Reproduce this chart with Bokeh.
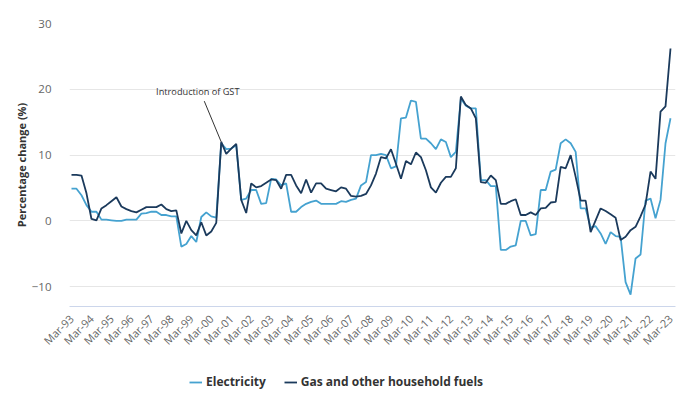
import math
from bokeh.plotting import figure
from bokeh.layouts import column
from bokeh.models import ColumnDataSource, Range1d, FixedTicker, Legend, LegendItem, Label, Segment
from bokeh.embed import file_html
from bokeh.resources import INLINE

# Quarterly data, Mar-93 .. Mar-23 (annual % change)
electricity = [4.9, 4.9, 3.9, 2.4, 1.4, 1.4, 0.2, 0.2, 0.1, 0.0, 0.0, 0.2, 0.2, 0.2, 1.1, 1.2,
               1.4, 1.4, 0.9, 0.9, 0.7, 0.7, -3.9, -3.5, -2.3, -3.2, 0.6, 1.3, 0.7, 0.5,
               11.8, 10.9, 11.0, 11.5, 3.2, 3.4, 4.7, 4.7, 2.6, 2.7, 6.4, 6.3, 5.4, 5.7,
               1.4, 1.4, 2.1, 2.6, 2.9, 3.1, 2.6, 2.6, 2.6, 2.6, 3.0, 2.9, 3.2, 3.4, 5.4, 5.9,
               10.0, 10.0, 10.2, 10.0, 8.0, 8.3, 15.6, 15.7, 18.3, 18.1, 12.5, 12.5, 11.8, 10.9,
               12.4, 12.0, 9.7, 10.5, 18.6, 17.5, 17.1, 17.1, 6.2, 6.2, 5.3, 5.3, -4.4, -4.4,
               -3.9, -3.7, 0.0, 0.0, -2.2, -2.0, 4.7, 4.7, 7.5, 7.8, 11.8, 12.4, 11.8, 10.5,
               1.9, 1.9, -1.0, -0.8, -1.9, -3.5, -1.7, -2.3, -2.4, -9.3, -11.2, -5.7, -5.1,
               3.1, 3.4, 0.4, 3.2, 11.8, 15.6]
gas = [7.0, 7.0, 6.9, 4.2, 0.3, 0.1, 1.9, 2.4, 3.0, 3.6, 2.2, 1.8, 1.5, 1.3, 1.7, 2.1,
       2.1, 2.1, 2.5, 1.8, 1.5, 1.6, -1.9, 0.0, -1.4, -2.2, -0.2, -2.2, -1.6, -0.3,
       12.0, 10.2, 11.0, 11.7, 3.2, 1.2, 5.7, 5.1, 5.3, 5.8, 6.3, 6.2, 4.9, 7.0,
       7.0, 5.4, 4.2, 6.3, 4.3, 5.7, 5.7, 4.9, 4.7, 4.5, 5.1, 4.9, 3.8, 3.7, 3.8, 4.1,
       5.4, 7.2, 9.7, 9.5, 10.9, 8.7, 6.4, 9.1, 8.6, 10.4, 9.7, 7.7, 5.1, 4.3,
       5.8, 6.7, 6.7, 8.0, 18.9, 17.6, 17.1, 15.6, 5.9, 5.8, 6.9, 6.2, 2.6, 2.6,
       3.0, 3.3, 0.9, 0.9, 1.3, 0.9, 1.9, 2.0, 2.8, 2.9, 8.2, 8.0, 10.0, 6.7,
       3.1, 3.1, -1.7, 0.1, 1.9, 1.5, 1.0, 0.5, -2.9, -2.4, -1.4, -0.9, 0.7,
       2.5, 7.5, 6.4, 16.6, 17.4, 26.2]
tick_labels = ["Mar-93", "Mar-94", "Mar-95", "Mar-96", "Mar-97", "Mar-98", "Mar-99", "Mar-00",
               "Mar-01", "Mar-02", "Mar-03", "Mar-04", "Mar-05", "Mar-06", "Mar-07", "Mar-08",
               "Mar-09", "Mar-10", "Mar-11", "Mar-12", "Mar-13", "Mar-14", "Mar-15", "Mar-16",
               "Mar-17", "Mar-18", "Mar-19", "Mar-20", "Mar-21", "Mar-22", "Mar-23"]
series_names = ["Electricity", "Gas and other household fuels"]
gst_index = 30  # Sep-00 quarter

FONT = "Open Sans"
ELEC_C = "#45a2d0"
GAS_C = "#1b3a5c"

x = list(range(len(gas)))
src = ColumnDataSource(dict(x=x, elec=electricity, gas=gas))

p = figure(frame_width=606, frame_height=283, output_backend="svg", toolbar_location=None,
           x_range=Range1d(-0.4, 121.0), y_range=Range1d(-13.0, 30.0),
           min_border_left=69, min_border_right=16, min_border_top=23, min_border_bottom=50)
p.outline_line_color = None
p.background_fill_color = "white"
p.border_fill_color = "white"

r1 = p.line("x", "elec", source=src, line_color=ELEC_C, line_width=1.8)
r2 = p.line("x", "gas", source=src, line_color=GAS_C, line_width=1.8)

# axes
p.xaxis.ticker = FixedTicker(ticks=[4 * i for i in range(len(tick_labels))])
p.xaxis.major_label_overrides = {4 * i: t for i, t in enumerate(tick_labels)}
p.xaxis.major_label_orientation = math.pi / 4
p.xaxis.axis_line_color = "#ccd6eb"
p.xaxis.major_tick_line_color = None
p.xaxis.minor_tick_line_color = None
p.xaxis.major_label_text_font = FONT
p.xaxis.major_label_text_font_size = "11px"
p.xaxis.major_label_text_color = "#666666"
p.xaxis.major_label_standoff = 4

p.yaxis.ticker = FixedTicker(ticks=[-10, 0, 10, 20, 30])
p.yaxis.axis_line_color = None
p.yaxis.major_tick_line_color = None
p.yaxis.minor_tick_line_color = None
p.yaxis.major_label_text_font = FONT
p.yaxis.major_label_text_font_size = "11.5px"
p.yaxis.major_label_text_color = "#666666"
p.yaxis.major_label_standoff = 12
p.yaxis.axis_label = "Percentage change (%)"
p.yaxis.axis_label_text_font = FONT
p.yaxis.axis_label_text_font_size = "11px"
p.yaxis.axis_label_text_font_style = "bold"
p.yaxis.axis_label_text_color = "#333333"
p.yaxis.axis_label_standoff = 0

p.xgrid.grid_line_color = None
p.ygrid.grid_line_color = "#e6e6e6"
p.ygrid.grid_line_width = 1

# annotation
seg = Segment(x0=26.6, y0=18.2, x1=gst_index, y1=gas[gst_index], line_color="#333333", line_width=1)
p.add_glyph(seg)
p.add_layout(Label(x=25.3, y=19.6, text="Introduction of GST", text_align="center",
                   text_baseline="middle", text_font=FONT, text_font_size="9.2px",
                   text_color="#333333"))

# legend, drawn in a strip below the chart
lf = figure(width=684, height=40, output_backend="svg", toolbar_location=None,
            x_range=Range1d(0, 1), y_range=Range1d(0, 1),
            x_axis_location=None, y_axis_location=None,
            min_border_left=0, min_border_right=0, min_border_top=0, min_border_bottom=0)
lf.outline_line_color = None
lf.xgrid.visible = False
lf.ygrid.visible = False
lr1 = lf.line(x=[-5, -4], y=[-5, -5], line_color=ELEC_C, line_width=1.8)
lr2 = lf.line(x=[-5, -4], y=[-5, -5], line_color=GAS_C, line_width=1.8)
legend = Legend(items=[LegendItem(label=series_names[0], renderers=[lr1]),
                       LegendItem(label=series_names[1], renderers=[lr2])],
                orientation="horizontal", location=(120, 6),
                label_text_font=FONT, label_text_font_size="12px", label_text_font_style="bold",
                label_text_color="#333333",
                glyph_width=13, glyph_height=14, label_standoff=4, spacing=18,
                padding=2, margin=0, border_line_color=None, background_fill_alpha=0)
lf.add_layout(legend, "center")

open("out.html", "w").write(file_html(column(p, lf, spacing=0), INLINE))
